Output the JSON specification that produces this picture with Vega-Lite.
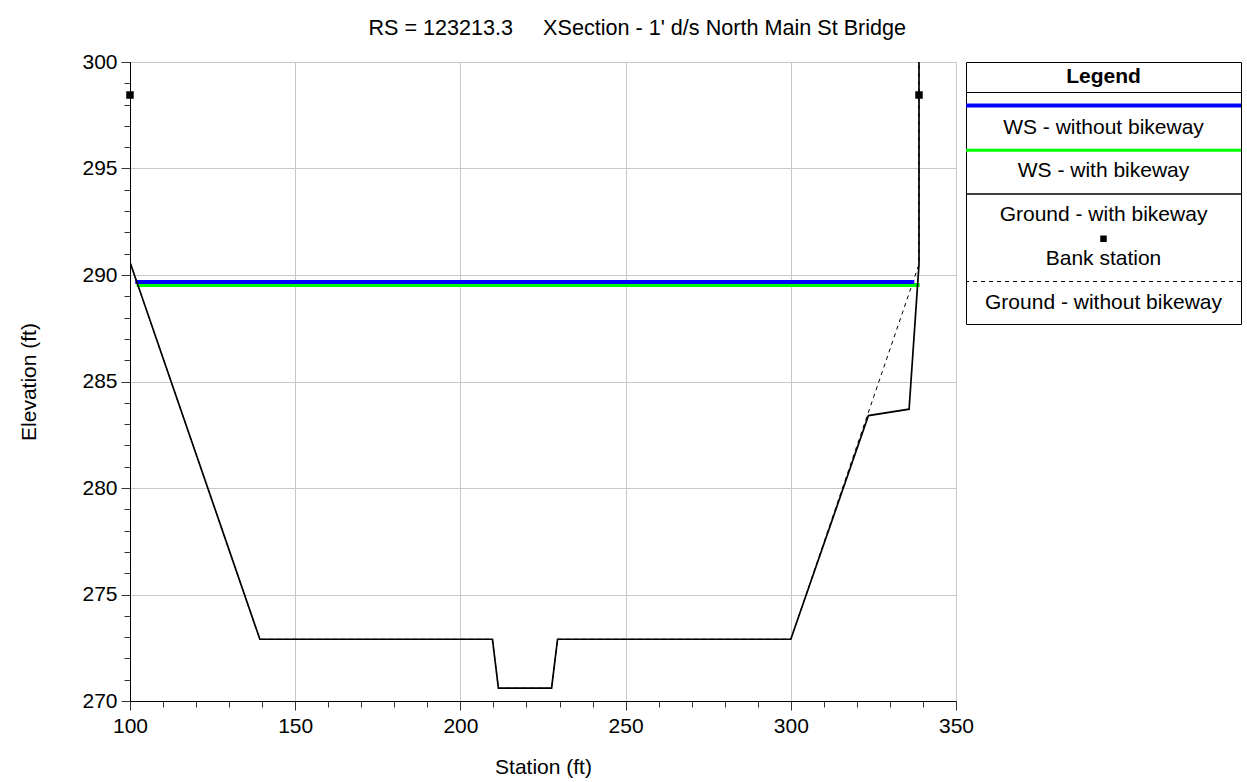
{
  "$schema": "https://vega.github.io/schema/vega-lite/v6.json",
  "padding": {"left": 18, "top": 18, "right": 5, "bottom": 5},
  "title": {"text": "RS = 123213.3\u00a0\u00a0\u00a0\u00a0 XSection - 1' d/s North Main St Bridge", "fontSize": 21.6, "fontWeight": "normal", "font": "Liberation Sans", "color": "#000", "anchor": "middle", "offset": 11, "dx": 6},
  "datasets": {
    "ground_with": [
      {"station": 100, "elev": 300.0},
      {"station": 100, "elev": 290.6},
      {"station": 139.3, "elev": 272.9},
      {"station": 209.7, "elev": 272.9},
      {"station": 211.5, "elev": 270.6},
      {"station": 227.6, "elev": 270.6},
      {"station": 229.4, "elev": 272.9},
      {"station": 300.0, "elev": 272.9},
      {"station": 323.5, "elev": 283.4},
      {"station": 335.8, "elev": 283.7},
      {"station": 338.8, "elev": 290.5},
      {"station": 338.8, "elev": 300.0}
    ],
    "ground_without": [
      {"station": 100, "elev": 300.0},
      {"station": 100, "elev": 290.6},
      {"station": 139.3, "elev": 272.9},
      {"station": 209.7, "elev": 272.9},
      {"station": 211.5, "elev": 270.6},
      {"station": 227.6, "elev": 270.6},
      {"station": 229.4, "elev": 272.9},
      {"station": 300.0, "elev": 272.9},
      {"station": 338.8, "elev": 290.5},
      {"station": 338.8, "elev": 300.0}
    ],
    "ws_without": [
      {"station": 101.6, "elev": 289.67},
      {"station": 337.4, "elev": 289.67}
    ],
    "ws_with": [
      {"station": 102.0, "elev": 289.53},
      {"station": 339.0, "elev": 289.53}
    ],
    "bank": [
      {"station": 100, "elev": 298.45},
      {"station": 338.8, "elev": 298.45}
    ],
    "legend": [
      {"label": "WS - without bikeway"},
      {"label": "WS - with bikeway"},
      {"label": "Ground - with bikeway"},
      {"label": "Bank station"},
      {"label": "Ground - without bikeway"}
    ],
    "legend_title": [{"t": "Legend"}]
  },
  "bounds": "flush",
  "spacing": 10,
  "hconcat": [
    {
      "width": 826,
      "height": 639,
      "encoding": {
        "x": {"field": "station", "type": "quantitative", "scale": {"domain": [100, 350], "nice": false, "zero": false},
          "axis": {"title": "Station (ft)", "values": [100,110,120,130,140,150,160,170,180,190,200,210,220,230,240,250,260,270,280,290,300,310,320,330,340,350],
            "labelExpr": "datum.value % 50 === 0 ? datum.label : ''",
            "tickSize": {"condition": {"test": "datum.value % 50 === 0", "value": 9}, "value": 6},
            "gridOpacity": {"condition": {"test": "datum.value % 50 === 0", "value": 1}, "value": 0},
            "labelPadding": 5, "titlePadding": 20, "grid": true}},
        "y": {"field": "elev", "type": "quantitative", "scale": {"domain": [270, 300], "nice": false, "zero": false},
          "axis": {"title": "Elevation (ft)", "values": [270,271,272,273,274,275,276,277,278,279,280,281,282,283,284,285,286,287,288,289,290,291,292,293,294,295,296,297,298,299,300],
            "labelExpr": "datum.value % 5 === 0 ? datum.label : ''",
            "tickSize": {"condition": {"test": "datum.value % 5 === 0", "value": 9}, "value": 6},
            "gridOpacity": {"condition": {"test": "datum.value % 5 === 0", "value": 1}, "value": 0},
            "labelPadding": 4, "titlePadding": 42, "grid": true}}
      },
      "layer": [
        {"data": {"name": "ground_without"}, "mark": {"type": "line", "color": "#000", "strokeWidth": 1, "strokeDash": [4, 4], "clip": true}, "encoding": {"order": {"value": null}}},
        {"data": {"name": "ws_with"}, "mark": {"type": "line", "color": "#00ff00", "strokeWidth": 4, "clip": true}, "encoding": {"order": {"value": null}}},
        {"data": {"name": "ws_without"}, "mark": {"type": "line", "color": "#0000ff", "strokeWidth": 4, "clip": true}, "encoding": {"order": {"value": null}}},
        {"data": {"name": "ground_with"}, "mark": {"type": "line", "color": "#000", "strokeWidth": 1.7, "clip": true}, "encoding": {"order": {"value": null}}},
        {"data": {"name": "bank"}, "mark": {"type": "square", "color": "#000", "opacity": 1, "filled": true, "size": 56}}
      ]
    },
    {
      "vconcat": [
        {
          "width": 275,
          "height": 30,
          "view": {"stroke": "#000", "strokeWidth": 1},
          "data": {"name": "legend_title"},
          "mark": {"type": "text", "fontSize": 21, "fontWeight": "bold", "font": "Liberation Sans", "color": "#000"},
          "encoding": {"text": {"field": "t"}}
        },
        {
          "width": 275,
          "height": 232,
          "view": {"stroke": "#000", "strokeWidth": 1},
          "data": {"name": "legend"},
          "encoding": {
            "y": {"field": "label", "type": "nominal", "scale": {"type": "point", "padding": 0, "domain": ["WS - without bikeway", "WS - with bikeway", "Ground - with bikeway", "Bank station", "Ground - without bikeway"], "range": [35.5, 210.5]}, "axis": null}
          },
          "layer": [
            {"transform": [{"filter": "datum.label === 'WS - without bikeway'"}], "mark": {"type": "rule", "color": "#0000ff", "strokeWidth": 4, "yOffset": -22}},
            {"transform": [{"filter": "datum.label === 'WS - with bikeway'"}], "mark": {"type": "rule", "color": "#00ff00", "strokeWidth": 3, "yOffset": -21}},
            {"transform": [{"filter": "datum.label === 'Ground - with bikeway'"}], "mark": {"type": "rule", "color": "#000", "strokeWidth": 1.5, "yOffset": -21}},
            {"transform": [{"filter": "datum.label === 'Ground - without bikeway'"}], "mark": {"type": "rule", "color": "#000", "strokeWidth": 1, "strokeDash": [4, 4], "yOffset": -21}},
            {"transform": [{"filter": "datum.label === 'Bank station'"}], "mark": {"type": "square", "color": "#000", "filled": true, "opacity": 1, "size": 42, "yOffset": -20}},
            {"mark": {"type": "text", "fontSize": 21, "font": "Liberation Sans", "color": "#000"}, "encoding": {"text": {"field": "label"}}}
          ]
        }
      ],
      "spacing": 0,
      "bounds": "flush"
    }
  ],
  "config": {
    "font": "Liberation Sans",
    "view": {"stroke": null},
    "axis": {"labelFont": "Liberation Sans", "labelFontSize": 21, "labelColor": "#000", "titleFont": "Liberation Sans", "titleFontSize": 21, "titleFontWeight": "normal", "titleColor": "#000", "domainColor": "#000", "tickColor": "#333", "gridColor": "#c8c8c8", "labelOverlap": false, "labelFlush": false, "labelBound": false}
  }
}
